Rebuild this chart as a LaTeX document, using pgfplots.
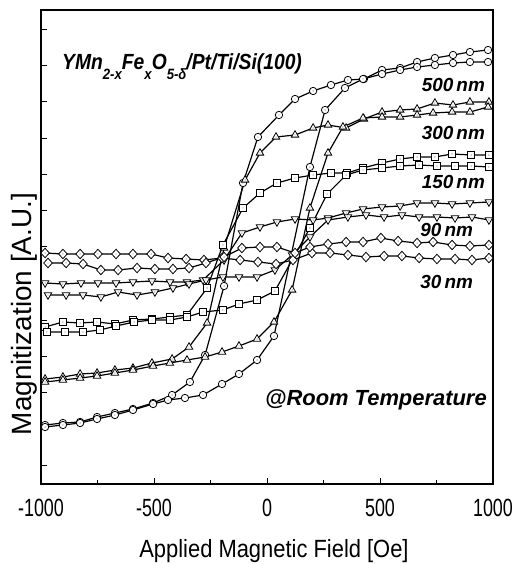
\documentclass[border=0pt]{standalone}
\usepackage{pgfplots}
\pgfplotsset{compat=1.18}
\usepackage{fontspec}
\setmainfont{Liberation Sans}
\newfontfamily\cond{Liberation Sans}[FakeStretch=0.72]
\newfontfamily\condl{Liberation Sans}[FakeStretch=0.88]
\usetikzlibrary{calc}

% open marks with a small dot in the middle
\newcommand\markdot{\begin{pgfscope}\pgfsetfillcolor{black}\pgfpathcircle{\pgfpointorigin}{0.45pt}\pgfusepathqfill\end{pgfscope}}
\pgfdeclareplotmark{ocirc}{\pgfpathcircle{\pgfpointorigin}{\pgfplotmarksize}\pgfusepathqfillstroke\markdot}
\pgfdeclareplotmark{osq}{\pgfpathrectangle{\pgfpoint{-\pgfplotmarksize}{-\pgfplotmarksize}}{\pgfpoint{2\pgfplotmarksize}{2\pgfplotmarksize}}\pgfusepathqfillstroke\markdot}
\pgfdeclareplotmark{otri}{\pgfpathmoveto{\pgfpointpolar{90}{\pgfplotmarksize}}\pgfpathlineto{\pgfpointpolar{210}{\pgfplotmarksize}}\pgfpathlineto{\pgfpointpolar{330}{\pgfplotmarksize}}\pgfpathclose\pgfusepathqfillstroke\markdot}
\pgfdeclareplotmark{odtri}{\pgfpathmoveto{\pgfpointpolar{270}{\pgfplotmarksize}}\pgfpathlineto{\pgfpointpolar{30}{\pgfplotmarksize}}\pgfpathlineto{\pgfpointpolar{150}{\pgfplotmarksize}}\pgfpathclose\pgfusepathqfillstroke\markdot}
\pgfdeclareplotmark{odia}{\pgfpathmoveto{\pgfpoint{\pgfplotmarksize}{0pt}}\pgfpathlineto{\pgfpoint{0pt}{1.1\pgfplotmarksize}}\pgfpathlineto{\pgfpoint{-\pgfplotmarksize}{0pt}}\pgfpathlineto{\pgfpoint{0pt}{-1.1\pgfplotmarksize}}\pgfpathclose\pgfusepathqfillstroke\markdot}

\begin{document}
\begin{tikzpicture}
\begin{axis}[
    name=ax,
    scale only axis,
    width=452bp, height=474bp,
    xmin=-1000, xmax=1000,
    ymin=16, ymax=490,
    xtick={-1000,-500,0,500,1000},
    xticklabels={-1000,-500,0,500,1000},
    minor xtick={-750,-250,250,750},
    ytick={35,71,108,144,180,217,253,289,325,361,398,434,470},
    yticklabels={},
    xtick pos=bottom, ytick pos=left,
    tick align=inside,
    major tick length=6bp, minor tick length=4bp,
    tick style={black, line width=1pt},
    axis line style={line width=1.2pt},
    xticklabel style={font=\cond\fontsize{25}{28}\selectfont, yshift=-12bp},
    xlabel={Applied Magnetic Field [Oe]},
    xlabel style={font=\condl\fontsize{25}{28}\selectfont, yshift=-15bp, xshift=7bp},
    ylabel={Magnitization [A.U.]},
    ylabel style={font=\fontsize{28}{30}\selectfont, at={(rel axis cs:0,0.369)}, anchor=south, xshift=-5bp},
    every axis plot/.append style={black, line width=1.2pt, mark options={fill=white, line width=0.8pt}},
    clip=false,
]
% 500 nm
\addplot[mark=ocirc, mark size=3.7bp] coordinates {
(-982,75) (-903,77) (-827,78) (-752,83) (-673,87) (-593,91) (-504,97) (-420,105) (-341,118) (-274,145) (-190,214) (-106,317) (-40,363) (53,385) (124,401) (204,409) (283,415) (358,420) (429,421) (509,430) (589,432) (664,438) (743,442) (823,445) (898,448) (978,450)
};
\addplot[mark=ocirc, mark size=3.7bp] coordinates {
(-982,73) (-903,75) (-827,77) (-752,81) (-673,85) (-593,90) (-504,96) (-438,100) (-363,102) (-283,105) (-199,116) (-124,126) (-44,140) (31,164) (190,333) (257,390) (345,412) (425,421) (509,426) (589,430) (664,433) (743,435) (823,437) (898,438) (978,438)
};
% 300 nm
\addplot[mark=otri, mark size=4.3bp] coordinates {
(-982,121) (-903,123) (-827,126) (-752,127) (-673,130) (-593,132) (-509,137) (-420,141) (-345,153) (-265,177) (-190,252) (-97,320) (-31,347) (40,363) (124,365) (204,372) (270,375) (350,372) (429,381) (509,388) (589,390) (664,391) (743,397) (823,395) (898,398) (982,398)
};
\addplot[mark=otri, mark size=4.3bp] coordinates {
(-982,118) (-903,120) (-827,122) (-752,124) (-673,127) (-593,130) (-504,134) (-430,137) (-354,140) (-274,143) (-199,148) (-124,154) (-44,161) (31,178) (111,210) (190,292) (270,347) (336,373) (425,382) (509,383) (589,383) (664,385) (735,387) (819,388) (898,388) (978,393)
};
% 150 nm
\addplot[mark=osq, mark size=3.3bp] coordinates {
(-982,173) (-903,178) (-827,177) (-752,178) (-673,176) (-593,180) (-509,181) (-429,183) (-354,185) (-265,212) (-195,255) (-106,292) (-31,307) (44,317) (124,322) (204,325) (283,327) (354,327) (425,332) (509,337) (589,341) (664,343) (743,343) (819,346) (903,345) (982,345)
};
\addplot[mark=osq, mark size=3.3bp] coordinates {
(-974,168) (-894,168) (-814,168) (-739,170) (-668,174) (-588,178) (-509,180) (-429,180) (-354,183) (-283,188) (-195,190) (-124,196) (-44,200) (35,209) (190,272) (266,306) (350,325) (425,330) (509,332) (589,334) (673,335) (752,334) (832,334) (903,334) (982,333)
};
% 90 nm
\addplot[mark=odtri, mark size=4.3bp] coordinates {
(-982,217) (-903,216) (-823,217) (-748,217) (-668,217) (-593,218) (-509,219) (-429,218) (-354,218) (-283,220) (-190,240) (-111,267) (-31,273) (44,278) (124,281) (204,280) (270,282) (350,287) (425,291) (509,293) (589,294) (664,297) (743,297) (819,296) (898,297) (982,298)
};
\addplot[mark=odtri, mark size=4.3bp] coordinates {
(-969,205) (-889,205) (-814,205) (-735,203) (-659,208) (-575,205) (-496,208) (-416,212) (-345,216) (-270,220) (-195,223) (-124,223) (-44,223) (35,230) (111,245) (190,263) (270,280) (358,283) (438,285) (518,283) (597,285) (673,283) (752,283) (832,282) (907,283) (982,280)
};
% 30 nm
\addplot[mark=odia, mark size=4.3bp] coordinates {
(-982,247) (-903,246) (-827,246) (-748,246) (-668,246) (-593,246) (-513,246) (-438,242) (-358,241) (-279,240) (-199,242) (-119,240) (-40,238) (40,236) (115,240) (199,247) (279,247) (358,245) (438,243) (518,244) (597,244) (673,242) (752,241) (832,241) (907,240) (982,242)
};
\addplot[mark=odia, mark size=4.3bp] coordinates {
(-969,237) (-889,237) (-814,236) (-735,230) (-659,230) (-575,232) (-496,231) (-416,231) (-345,232) (-270,237) (-190,243) (-111,252) (-31,253) (44,253) (124,247) (190,253) (270,256) (350,258) (425,258) (504,262) (580,259) (664,257) (735,258) (819,255) (898,254) (982,255)
};
% labels
\node[anchor=base west, font=\condl\bfseries\itshape\fontsize{22}{24}\selectfont, inner sep=0pt] at (axis cs:-907,430)
  {YMn\raisebox{-0.42em}{\fontsize{15}{16}\selectfont 2-x}Fe\raisebox{-0.42em}{\fontsize{15}{16}\selectfont x}O\raisebox{-0.42em}{\fontsize{15}{16}\selectfont 5-δ}/Pt/Ti/Si(100)};
\begin{scope}[every node/.style={anchor=east, inner sep=0pt, font=\bfseries\itshape\fontsize{19}{20}\selectfont}]
\node at (axis cs:965,415) {500\,nm};
\node at (axis cs:965,367) {300\,nm};
\node at (axis cs:965,318) {150\,nm};
\node at (axis cs:912,270) {90\,nm};
\node at (axis cs:912,218) {30\,nm};
\end{scope}
\node[anchor=base east, inner sep=0pt, font=\bfseries\itshape\fontsize{22}{24}\selectfont] at (axis cs:973,94) {@Room Temperature};
\coordinate (sw) at (rel axis cs:0,0);
\coordinate (ne) at (rel axis cs:1,1);
\end{axis}
\pgfresetboundingbox
\path ($(sw)+(-41bp,-80bp)$) rectangle ($(ne)+(24bp,10bp)$);
\end{tikzpicture}
\end{document}
